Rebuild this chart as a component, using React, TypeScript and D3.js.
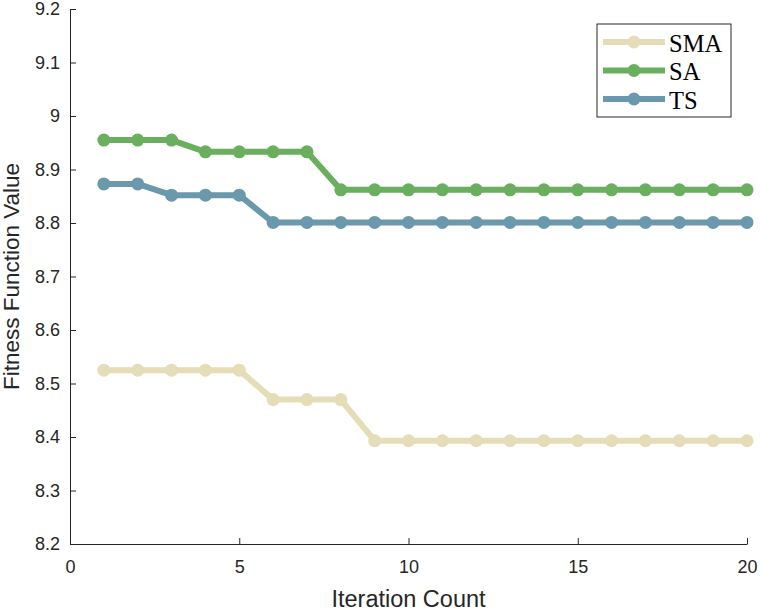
import React, { useEffect, useRef } from 'react';
import * as d3 from 'd3';

const iterations = d3.range(1, 21);
const smaValues = [8.525, 8.525, 8.525, 8.525, 8.525, 8.47, 8.47, 8.47, 8.393, 8.393, 8.393, 8.393, 8.393, 8.393, 8.393, 8.393, 8.393, 8.393, 8.393, 8.393];
const saValues = [8.955, 8.955, 8.955, 8.933, 8.933, 8.933, 8.933, 8.862, 8.862, 8.862, 8.862, 8.862, 8.862, 8.862, 8.862, 8.862, 8.862, 8.862, 8.862, 8.862];
const tsValues = [8.873, 8.873, 8.852, 8.852, 8.852, 8.801, 8.801, 8.801, 8.801, 8.801, 8.801, 8.801, 8.801, 8.801, 8.801, 8.801, 8.801, 8.801, 8.801, 8.801];
const seriesNames = ['SMA', 'SA', 'TS'];
const xTicks = [0, 5, 10, 15, 20];
const yTicks = [8.2, 8.3, 8.4, 8.5, 8.6, 8.7, 8.8, 8.9, 9, 9.1, 9.2];

const colors = ['#e4ddb7', '#6aaf5d', '#6a98ac'];

const App = () => {
  const svgRef = useRef<SVGSVGElement>(null);

  useEffect(() => {
    if (!svgRef.current) return;
    const width = 760;
    const height = 612;
    const left = 70, right = 747, top = 9, bottom = 544;

    const svg = d3.select(svgRef.current);
    svg.selectAll('*').remove();
    svg.attr('width', width).attr('height', height);

    const x = d3.scaleLinear().domain([0, 20]).range([left, right]);
    const y = d3.scaleLinear().domain([8.2, 9.2]).range([bottom, top]);

    const axisColor = '#262626';
    const tickFont = 'Liberation Sans, Arial, sans-serif';

    // Axes with inward ticks, no box
    const xAxis = svg.append('g')
      .attr('transform', `translate(0,${bottom})`)
      .call(d3.axisBottom(x).tickValues(xTicks).tickSizeInner(-6).tickSizeOuter(0).tickPadding(16).tickFormat(d3.format('d')));
    const yAxis = svg.append('g')
      .attr('transform', `translate(${left},0)`)
      .call(d3.axisLeft(y).tickValues(yTicks).tickSizeInner(-6).tickSizeOuter(0).tickPadding(10)
        .tickFormat(d => (d === 9 ? '9' : d3.format('.1f')(d as number))));

    [xAxis, yAxis].forEach(a => {
      a.select('.domain').attr('stroke', axisColor).attr('stroke-width', 1);
      a.selectAll('.tick line').attr('stroke', axisColor).attr('stroke-width', 1);
      a.selectAll('.tick text')
        .attr('fill', axisColor)
        .attr('font-family', tickFont)
        .attr('font-size', 18);
    });

    // Axis titles
    svg.append('text')
      .attr('x', (left + right) / 2)
      .attr('y', 607)
      .attr('text-anchor', 'middle')
      .attr('font-family', tickFont)
      .attr('font-size', 23.5)
      .attr('fill', axisColor)
      .text('Iteration Count');

    svg.append('text')
      .attr('transform', `translate(19,${(top + bottom) / 2}) rotate(-90)`)
      .attr('text-anchor', 'middle')
      .attr('font-family', tickFont)
      .attr('font-size', 22.5)
      .attr('fill', axisColor)
      .text('Fitness Function Value');

    const allSeries = [smaValues, saValues, tsValues];
    const line = d3.line<number>()
      .x((_, i) => x(iterations[i]))
      .y(d => y(d));

    allSeries.forEach((vals, s) => {
      const g = svg.append('g');
      g.append('path')
        .datum(vals)
        .attr('d', line)
        .attr('fill', 'none')
        .attr('stroke', colors[s])
        .attr('stroke-width', 6)
        .attr('stroke-linejoin', 'round');
      g.selectAll('circle')
        .data(vals)
        .join('circle')
        .attr('cx', (_, i) => x(iterations[i]))
        .attr('cy', d => y(d))
        .attr('r', 6.5)
        .attr('fill', colors[s]);
    });

    // Legend
    const legend = svg.append('g');
    legend.append('rect')
      .attr('x', 597).attr('y', 24)
      .attr('width', 134).attr('height', 93)
      .attr('fill', '#fff')
      .attr('stroke', axisColor)
      .attr('stroke-width', 1);
    seriesNames.forEach((name, i) => {
      const ly = 42 + i * 28.5;
      legend.append('line')
        .attr('x1', 603).attr('x2', 665)
        .attr('y1', ly).attr('y2', ly)
        .attr('stroke', colors[i])
        .attr('stroke-width', 6);
      legend.append('circle')
        .attr('cx', 634).attr('cy', ly).attr('r', 6.5)
        .attr('fill', colors[i]);
      legend.append('text')
        .attr('x', 669).attr('y', ly + 9.5)
        .attr('font-family', 'Liberation Serif, Times New Roman, serif')
        .attr('font-size', 24.5)
        .attr('fill', '#000')
        .text(name);
    });
  }, []);

  return (
    <div style={{ position: 'absolute', left: 0, top: 0, background: '#fff' }}>
      <svg ref={svgRef}></svg>
    </div>
  );
};

export default App;
